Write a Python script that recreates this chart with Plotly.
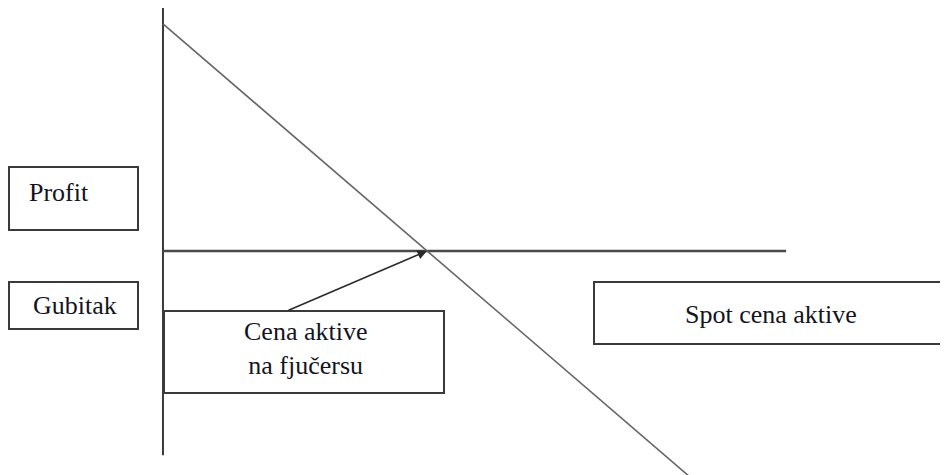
import plotly.graph_objects as go

# Short futures payoff: profit/loss against the spot price of the asset
futures_price = 100
spot_prices = [0, 199]
payoff = [100, -99]

# Axes of the diagram (spot price axis at zero profit, profit axis at zero spot)
zero_line_x = [0, 236]
zero_line_y = [0, 0]
profit_axis_x = [0, 0]
profit_axis_y = [-90, 108]

labels_left = ["Profit", "Gubitak"]
label_futures = ["Cena aktive", "na fjučersu"]
label_spot = "Spot cena aktive"

# the page body keeps its default 8px margin, so the figure sits at (8, 8)
OFF = 8
W, H = 948 - OFF, 475 - OFF
FONT = dict(family="Liberation Serif, Times New Roman, serif", size=26, color="#14141e")
BOX = dict(color="#3a3a3a", width=2)


def px(x, y):
    """page pixel -> paper fraction (figure margins are zero)"""
    return (x - OFF) / W, 1 - (y - OFF) / H


fig = go.Figure()

fig.add_trace(go.Scatter(x=profit_axis_x, y=profit_axis_y, mode="lines",
                         line=dict(color="#3c3c3c", width=2), hoverinfo="skip"))
fig.add_trace(go.Scatter(x=zero_line_x, y=zero_line_y, mode="lines",
                         line=dict(color="#4a4a4a", width=2.5), hoverinfo="skip"))
fig.add_trace(go.Scatter(x=spot_prices, y=payoff, mode="lines",
                         line=dict(color="#666666", width=1.6), hoverinfo="skip"))

# label boxes, placed in page pixels (the spot box runs off the right edge)
boxes = [(9, 167, 138, 230), (9, 282, 138, 329), (164, 311, 444, 393), (594, 282, 1010, 344)]
for x0, y0, x1, y1 in boxes:
    a0, b0 = px(x0, y0)
    a1, b1 = px(x1, y1)
    fig.add_shape(type="rect", xref="paper", yref="paper", x0=a0, y0=b1, x1=a1, y1=b0,
                  line=BOX, fillcolor="white", layer="above")

texts = [
    (labels_left[0], 59, 192),
    (labels_left[1], 75, 305),
    ("<br>".join(label_futures), 305, 348),
    (label_spot, 771, 314),
]
for t, x, y in texts:
    a, b = px(x, y)
    fig.add_annotation(text=t, x=a, y=b, xref="paper", yref="paper",
                       xanchor="center", yanchor="middle", showarrow=False, font=FONT)

# arrow from the futures-price box to where the payoff crosses zero
fig.add_annotation(x=futures_price, y=0, ax=47, ay=-26.4, xref="x", yref="y",
                   axref="x", ayref="y", text="", showarrow=True,
                   arrowhead=2, arrowsize=1.2, arrowwidth=1.6, arrowcolor="#2a2a2a")

fig.update_layout(
    width=W, height=H,
    margin=dict(l=0, r=0, t=0, b=0),
    paper_bgcolor="white", plot_bgcolor="white",
    showlegend=False,
    xaxis=dict(range=[-58.7, 297.3], visible=False, fixedrange=True),
    yaxis=dict(range=[-98.7, 107.0], visible=False, fixedrange=True),
)

fig.write_html("out.html")
